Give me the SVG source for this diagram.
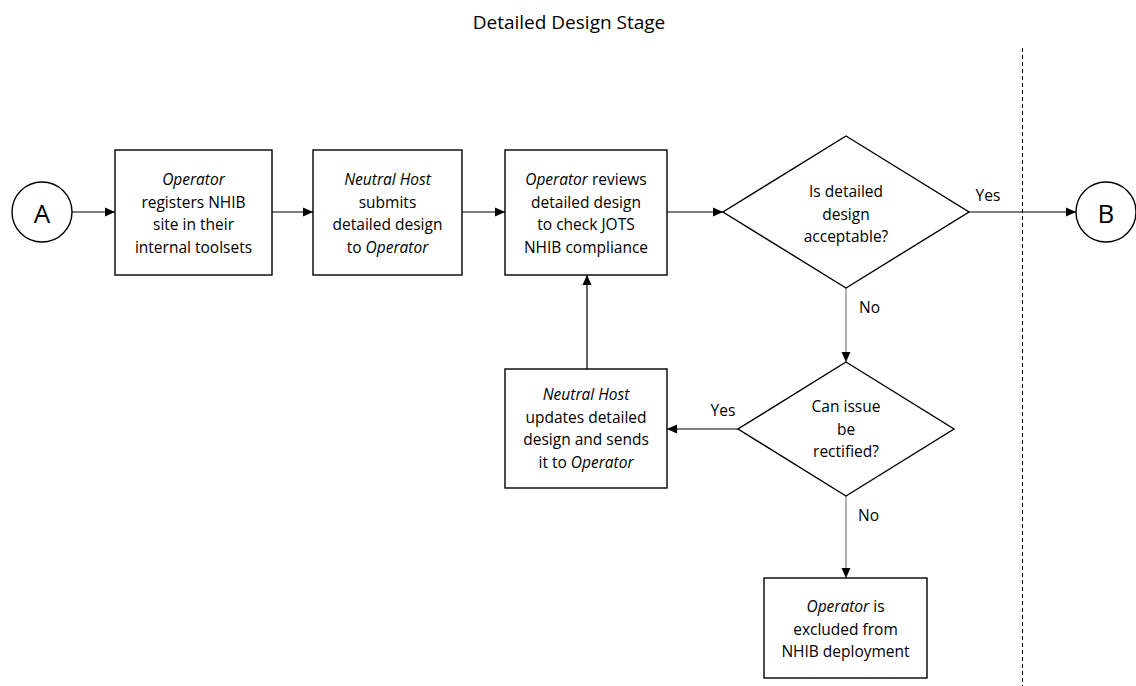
<svg xmlns="http://www.w3.org/2000/svg" width="1136" height="686" viewBox="0 0 1136 686">
<style>
text{font-family:"Open Sans","Liberation Sans",sans-serif;font-size:15.5px;fill:#000;text-anchor:middle}
.t{font-size:19px}
.big{font-size:26px}
.l{text-anchor:start}
.shape{fill:#fff;stroke:#000;stroke-width:1.4}
.c{fill:none;stroke:#000;stroke-width:1.2}
.g{stroke:#7a7a7a}
.it{font-style:italic}
</style>
<defs>
<marker id="ah" viewBox="0 0 10 10" refX="10" refY="5" markerWidth="10" markerHeight="10" markerUnits="userSpaceOnUse" orient="auto">
<path d="M0,0.5 L10,5 L0,9.5 Z" fill="#000"/>
</marker>
</defs>
<rect width="1136" height="686" fill="#fff"/>
<text class="t" x="569" y="29">Detailed Design Stage</text>
<line x1="1022.5" y1="48" x2="1022.5" y2="686" stroke="#000" stroke-width="1" stroke-dasharray="4,3"/>
<g id="connectors">
<line class="c" x1="72" y1="212" x2="115" y2="212" marker-end="url(#ah)"/>
<line class="c" x1="272" y1="212" x2="313" y2="212" marker-end="url(#ah)"/>
<line class="c" x1="462" y1="212" x2="505" y2="212" marker-end="url(#ah)"/>
<line class="c" x1="667" y1="212" x2="723" y2="212" marker-end="url(#ah)"/>
<line class="c" x1="969" y1="212" x2="1076" y2="212" marker-end="url(#ah)"/>
<line class="c g" x1="846" y1="288" x2="846" y2="362" marker-end="url(#ah)"/>
<line class="c" x1="738" y1="429" x2="667" y2="429" marker-end="url(#ah)"/>
<line class="c" x1="587" y1="369" x2="587" y2="275" marker-end="url(#ah)"/>
<line class="c g" x1="846" y1="496" x2="846" y2="578" marker-end="url(#ah)"/>
<text x="988" y="201">Yes</text>
<text class="l" x="859" y="313">No</text>
<text x="723" y="416">Yes</text>
<text class="l" x="858" y="521">No</text>
</g>
<g id="A">
<circle class="shape" cx="42" cy="212" r="30"/>
<text class="big" x="42" y="223">A</text>
</g>
<g id="B">
<circle class="shape" cx="1106" cy="212" r="30"/>
<text class="big" x="1106" y="223">B</text>
</g>
<g id="box1">
<rect class="shape" x="115" y="150" width="157" height="125"/>
<text x="193.5" y="185" class="it">Operator</text>
<text x="193.5" y="207.5">registers NHIB</text>
<text x="193.5" y="230">site in their</text>
<text x="193.5" y="252.5">internal toolsets</text>
</g>
<g id="box2">
<rect class="shape" x="313" y="150" width="149" height="125"/>
<text x="387.5" y="185" class="it">Neutral Host</text>
<text x="387.5" y="207.5">submits</text>
<text x="387.5" y="230">detailed design</text>
<text x="387.5" y="252.5">to <tspan class="it">Operator</tspan></text>
</g>
<g id="box3">
<rect class="shape" x="505" y="150" width="162" height="125"/>
<text x="586" y="185"><tspan class="it">Operator</tspan> reviews</text>
<text x="586" y="207.5">detailed design</text>
<text x="586" y="230">to check JOTS</text>
<text x="586" y="252.5">NHIB compliance</text>
</g>
<g id="decision1">
<polygon class="shape" points="846,136 969,212 846,288 723,212"/>
<text x="846" y="197">Is detailed</text>
<text x="846" y="219.5">design</text>
<text x="846" y="242">acceptable?</text>
</g>
<g id="decision2">
<polygon class="shape" points="846,362 954,429 846,496 738,429"/>
<text x="846" y="412">Can issue</text>
<text x="846" y="434.5">be</text>
<text x="846" y="457">rectified?</text>
</g>
<g id="box4">
<rect class="shape" x="505" y="369" width="162" height="119"/>
<text x="586" y="400" class="it">Neutral Host</text>
<text x="586" y="422.5">updates detailed</text>
<text x="586" y="445">design and sends</text>
<text x="586" y="467.5">it to <tspan class="it">Operator</tspan></text>
</g>
<g id="box5">
<rect class="shape" x="764" y="578" width="163" height="100"/>
<text x="845.5" y="612"><tspan class="it">Operator</tspan> is</text>
<text x="845.5" y="634.5">excluded from</text>
<text x="845.5" y="657">NHIB deployment</text>
</g>
</svg>
